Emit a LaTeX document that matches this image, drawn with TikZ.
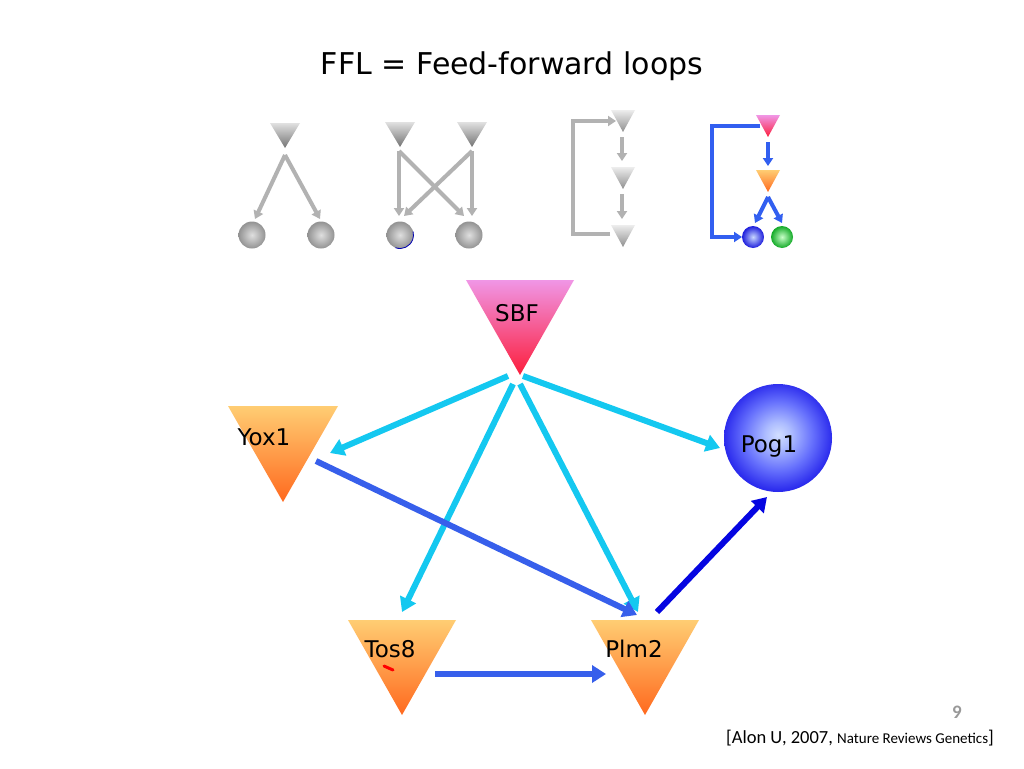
\documentclass[tikz,border=0pt]{standalone}
\usepackage{fontspec}
\setmainfont{DejaVu Sans}
\newfontfamily\citefont{Carlito}
\usetikzlibrary{arrows.meta}

\definecolor{cyanA}{RGB}{20,200,240}
\definecolor{blueA}{RGB}{55,95,235}
\definecolor{blueD}{RGB}{5,5,225}
\definecolor{grayA}{RGB}{178,178,178}
\definecolor{motifblue}{RGB}{50,95,240}
\definecolor{pinkT}{RGB}{240,150,230}
\definecolor{pinkM}{RGB}{242,125,215}
\definecolor{redB}{RGB}{252,30,60}
\definecolor{orangeT}{RGB}{255,205,115}
\definecolor{orangeB}{RGB}{255,105,30}
\definecolor{grayT}{RGB}{225,225,225}
\definecolor{grayB}{RGB}{115,115,115}

\pgfdeclareradialshading{pogshade}{\pgfpoint{0bp}{1.5bp}}{%
  rgb(0bp)=(0.82,0.87,1);
  rgb(6bp)=(0.68,0.74,1);
  rgb(16bp)=(0.40,0.44,0.99);
  rgb(25bp)=(0.17,0.17,0.93);
  rgb(50bp)=(0.17,0.17,0.93)}

\newcommand{\dtri}[6]{%
  \shade[#6] ({#2-#4},{-#3}) -- ({#2+#4},{-#3}) -- (#2,{-#3-#5}) -- cycle;
  \coordinate (#1) at (#2,{-#3-#5/2});}

\tikzset{
  pinktri/.style={top color=pinkT, middle color=pinkM, bottom color=redB},
  orangetri/.style={top color=orangeT, bottom color=orangeB},
  graytri/.style={top color=grayT, bottom color=grayB},
  lgraytri/.style={top color=grayT!60!white, bottom color=grayB!80!white},
  grayball/.style={inner color=gray!25, outer color=gray!85},
  blueball/.style={inner color={rgb,255:red,200;green,215;blue,255}, outer color={rgb,255:red,30;green,30;blue,220}},
  greenball/.style={inner color={rgb,255:red,200;green,255;blue,200}, outer color={rgb,255:red,20;green,170;blue,40}},
  pogball/.style={shading=pogshade},
  garrow/.style={draw=grayA, line width=4pt, -{Triangle[length=8pt,width=10pt]}},
  marrow/.style={draw=motifblue, line width=4pt, -{Triangle[length=8pt,width=10pt]}},
  carrow/.style={draw=cyanA, line width=6pt, -{Triangle[length=14pt,width=17pt]}},
  barrow/.style={draw=blueA, line width=6pt, -{Triangle[length=14pt,width=17pt]}},
  darrow/.style={draw=blueD, line width=6pt, -{Triangle[length=14pt,width=17pt]}},
  lbl/.style={font=\fontsize{23}{26}\selectfont, inner sep=0pt},
}

\begin{document}
\begin{tikzpicture}[x=1pt,y=1pt]
\useasboundingbox (0,0) rectangle (1024,-768);
\fill[white] (0,0) rectangle (1024,-768);

% title
\node[font=\fontsize{30}{34}\selectfont, inner sep=0pt] (title) at (512,-66) {FFL = Feed-forward loops};

% ---------- motif 1 ----------
\dtri{m1t}{285}{123}{15}{25}{graytri}
\shade[grayball] (252,-235) circle (13.5);
\shade[grayball] (321,-235) circle (13.5);
\coordinate (m1s) at (285,-155);
\coordinate (m1a) at (255,-219);
\coordinate (m1b) at (320,-219);
\draw[garrow] (m1s) -- (m1a);
\draw[garrow] (m1s) -- (m1b);

% ---------- motif 2 ----------
\dtri{m2t1}{400}{122}{15}{25}{graytri}
\dtri{m2t2}{472}{122}{15}{25}{graytri}
\shade[grayball] (400,-235) circle (13.5);
\shade[grayball] (469,-235) circle (13.5);
\draw[blue!70!black, line width=0.8pt] ([shift={(-110:13.5)}]400,-235) arc[start angle=-110, end angle=15, radius=13.5];
\coordinate (m2s1) at (399,-151);
\coordinate (m2s2) at (472,-151);
\coordinate (m2e1) at (399,-216);
\coordinate (m2e2) at (472,-216);
\coordinate (m2x1) at (464,-216);
\coordinate (m2x2) at (404,-216);
\draw[garrow] (m2s1) -- (m2e1);
\draw[garrow] (m2s2) -- (m2e2);
\draw[garrow] (m2s1) -- (m2x1);
\draw[garrow] (m2s2) -- (m2x2);

% ---------- motif 3 ----------
\dtri{m3t1}{623}{110}{12}{22}{lgraytri}
\dtri{m3t2}{623}{167}{12}{22}{lgraytri}
\dtri{m3t3}{623}{225}{12}{22}{lgraytri}
\coordinate (m3a1) at (622,-137);
\coordinate (m3a2) at (622,-161);
\coordinate (m3b1) at (622,-194);
\coordinate (m3b2) at (622,-219);
\draw[garrow] (m3a1) -- (m3a2);
\draw[garrow] (m3b1) -- (m3b2);
\coordinate (m3f1) at (610,-234);
\coordinate (m3f2) at (616,-121);
\draw[garrow] (m3f1) -- (573,-234) -- (573,-121) -- (m3f2);

% ---------- motif 4 ----------
\dtri{m4t1}{768}{115}{12}{22}{pinktri}
\dtri{m4t2}{768}{170}{12}{22}{orangetri}
\shade[blueball] (753,-237) circle (11);
\shade[greenball] (782,-237) circle (11);
\coordinate (m4a1) at (768,-142);
\coordinate (m4a2) at (768,-166);
\coordinate (m4b) at (768,-197);
\coordinate (m4c1) at (755,-223);
\coordinate (m4c2) at (782,-223);
\draw[marrow] (m4a1) -- (m4a2);
\draw[marrow] (m4b) -- (m4c1);
\draw[marrow] (m4b) -- (m4c2);
\coordinate (m4f1) at (760,-126);
\coordinate (m4f2) at (742,-237);
\draw[marrow] (m4f1) -- (712,-126) -- (712,-237) -- (m4f2);

% ---------- main network ----------
\dtri{sbf}{520}{280}{54}{95}{pinktri}
\dtri{yox}{283}{406}{55}{96}{orangetri}
\dtri{tos}{402}{620}{54}{95}{orangetri}
\dtri{plm}{645}{620}{54}{95}{orangetri}
\shade[pogball] (778,-438) circle (54);
\coordinate (pog) at (778,-438);

\node[lbl] (sbfl) at (517,-313) {SBF};
\node[lbl] (yoxl) at (264,-437) {Yox1};
\node[lbl] (pogl) at (769,-447) {Pog1};
\node[lbl] (tosl) at (390,-649) {Tos8};
\node[lbl] (plml) at (634,-649) {Plm2};
\coordinate (redA) at (384,-666);
\coordinate (redB) at (393,-670);
\draw[red, line width=3pt, line cap=round] (redA) -- (redB);

\coordinate (sbf1) at (508,-376);
\coordinate (sbf2) at (523,-376);
\coordinate (sbf3) at (513,-384);
\coordinate (sbf4) at (520,-384);
\coordinate (yoxin) at (330,-453);
\coordinate (pogin) at (720,-448);
\coordinate (tosin) at (402,-612);
\coordinate (plmin) at (638,-612);
\coordinate (yoxout) at (316,-461);
\coordinate (plmin2) at (637,-615);
\coordinate (tosout) at (435,-674);
\coordinate (plmin3) at (606,-674);
\coordinate (plmout) at (657,-612);
\coordinate (pogin2) at (767,-497);

\draw[carrow] (sbf1) -- (yoxin);
\draw[carrow] (sbf2) -- (pogin);
\draw[carrow] (sbf3) -- (tosin);
\draw[carrow] (sbf4) -- (plmin);
\draw[barrow] (yoxout) -- (plmin2);
\draw[barrow] (tosout) -- (plmin3);
\draw[darrow] (plmout) -- (pogin2);

% footer
\node[font=\citefont\fontsize{19}{21}\selectfont\bfseries, text=gray!80, inner sep=0pt] (page) at (957,-712) {9};
\node[anchor=base east, inner sep=0pt] (cite) at (994,-743) {\citefont\fontsize{18.5}{21}\selectfont [Alon U, 2007, {\fontsize{15}{17}\selectfont Nature Reviews Genetics}]};
\end{tikzpicture}
\end{document}
